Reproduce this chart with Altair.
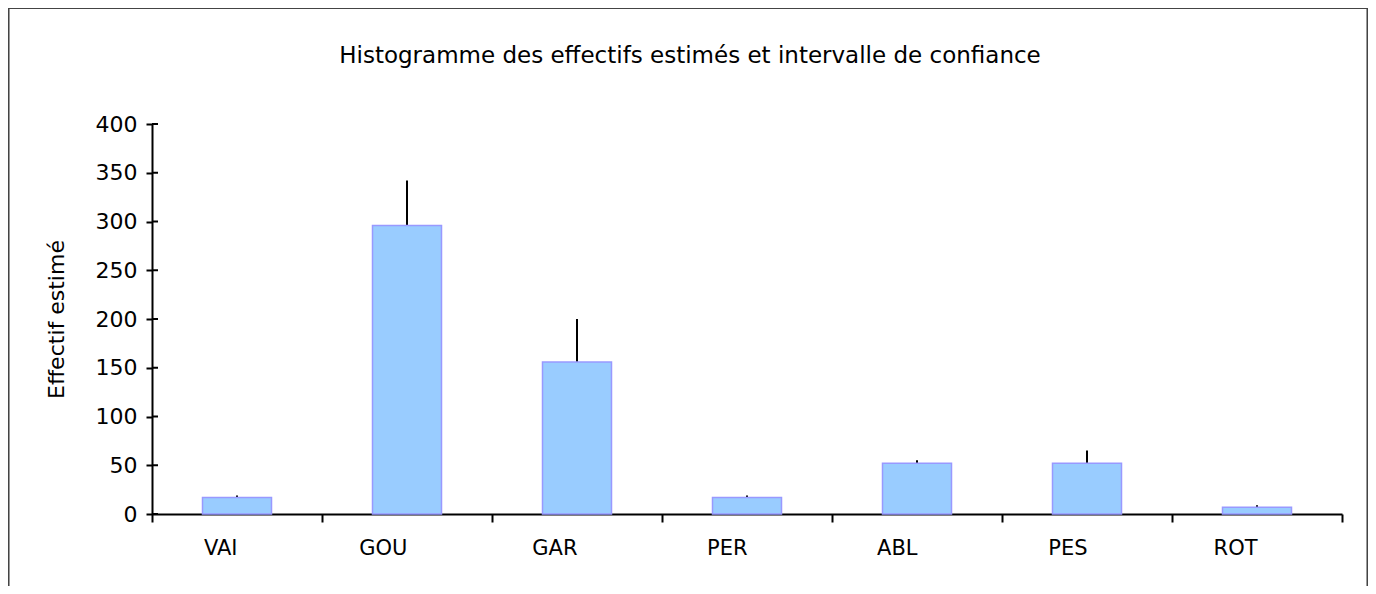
import altair as alt
import pandas as pd

categories = ["VAI", "GOU", "GAR", "PER", "ABL", "PES", "ROT"]
estimates = [17, 296, 156, 17, 52, 52, 7]
upper = [19, 342, 200, 19, 55, 65, 9]
y_ticks = [0, 50, 100, 150, 200, 250, 300, 350, 400]

df = pd.DataFrame({"espece": categories, "effectif": estimates, "haut": upper})
ticks_df = pd.DataFrame({"v": y_ticks})

FONT = "DejaVu Sans"

x_enc = alt.X(
    "espece:N",
    sort=categories,
    scale=alt.Scale(paddingInner=0, paddingOuter=0),
    axis=alt.Axis(
        title=None,
        labelAngle=0,
        tickBand="extent",
        tickSize=8,
        tickWidth=2,
        tickColor="black",
        domainColor="black",
        domainWidth=2,
        labelPadding=26,
        labelFontSize=21,
        labelColor="black",
        labelFont=FONT,
    ),
)
y_scale = alt.Scale(domain=[0, 400], nice=False)

bars = alt.Chart(df).mark_bar(
    width=69, fill="#99CCFF", stroke="#9999FF", strokeWidth=1.5
).encode(
    x=x_enc,
    y=alt.Y(
        "effectif:Q",
        scale=y_scale,
        axis=alt.Axis(
            values=y_ticks,
            title="Effectif estimé",
            titleFont=FONT,
            titleFontSize=22,
            titleFontWeight="normal",
            titleColor="black",
            titlePadding=27,
            grid=False,
            tickSize=6,
            tickWidth=2,
            tickColor="black",
            domainColor="black",
            domainWidth=2,
            labelPadding=9,
            labelFontSize=22,
            labelColor="black",
            labelFont=FONT,
        ),
    ),
)

inner_ticks = alt.Chart(ticks_df).mark_rule(color="black", strokeWidth=2).encode(
    y=alt.Y("v:Q", scale=y_scale),
    x=alt.value(0),
    x2=alt.value(6),
)

errs = alt.Chart(df).mark_rule(color="black", strokeWidth=2).encode(
    x=alt.X("espece:N", sort=categories),
    y=alt.Y("effectif:Q", scale=y_scale),
    y2="haut:Q",
)

frame = alt.Chart(df).mark_rect(
    fill="white", fillOpacity=0, stroke="#444444", strokeWidth=1.2
).encode(
    x=alt.value(-143.5), x2=alt.value(1215.5), y=alt.value(-115.5), y2=alt.value(480)
)

chart = alt.layer(frame, inner_ticks, errs, bars).properties(
    width=1190,
    height=390,
    autosize=alt.AutoSizeParams(type="none"),
    padding={"left": 144, "top": 116, "right": 26, "bottom": 72},
    title=alt.TitleParams(
        "Histogramme des effectifs estimés et intervalle de confiance",
        font=FONT,
        fontSize=23,
        fontWeight="normal",
        color="black",
        anchor="middle",
        dx=-57,
        offset=0,
        dy=60,
    ),
).configure_view(stroke=None)

chart.save("out.html", embed_options={"renderer": "svg", "actions": False})
